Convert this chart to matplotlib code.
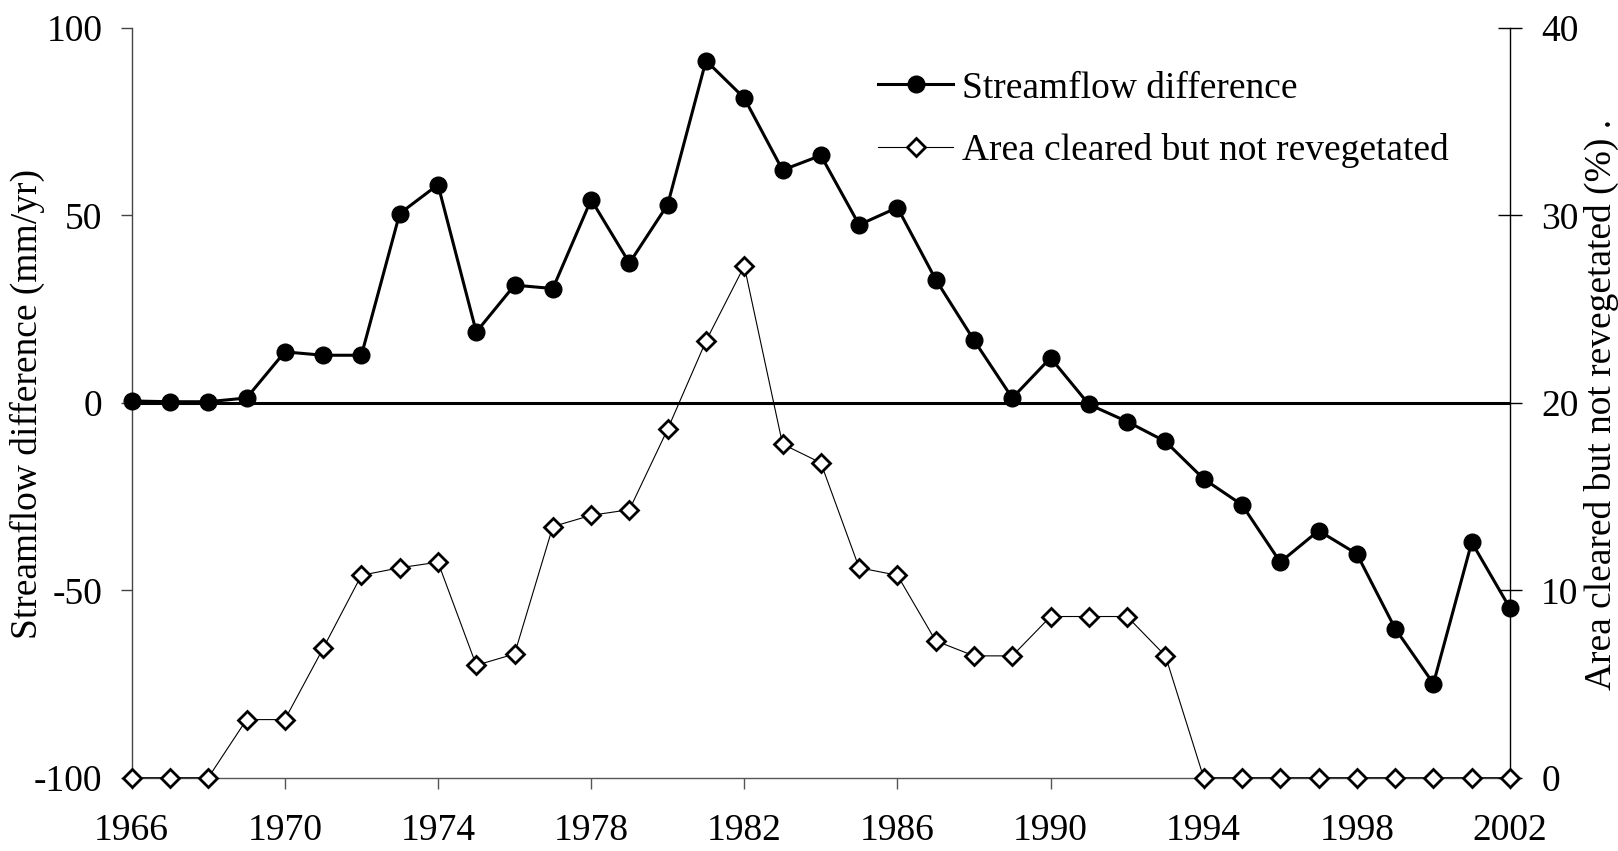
import matplotlib
matplotlib.use('Agg')
import matplotlib.pyplot as plt

years = list(range(1966, 2003))
streamflow = [0.5, 0.3, 0.3, 1.3, 13.6, 12.7, 12.7, 50.5, 58.2, 18.9,
              31.4, 30.5, 54.2, 37.3, 52.9, 91.3, 81.3, 62.1, 66.0, 47.5,
              52.1, 32.9, 16.7, 1.3, 12.0, -0.4, -5.0, -10.3, -20.3, -27.2,
              -42.5, -34.1, -40.3, -60.2, -74.9, -37.2, -54.8]
area = [0, 0, 0, 3.1, 3.1, 6.9, 10.8, 11.2, 11.5, 6.0,
        6.6, 13.4, 14.0, 14.3, 18.6, 23.3, 27.3, 17.8, 16.8, 11.2,
        10.8, 7.3, 6.5, 6.5, 8.6, 8.6, 8.6, 6.5, 0, 0,
        0, 0, 0, 0, 0, 0, 0]
xticks = list(range(1966, 2003, 4))
left_ticks = [-100, -50, 0, 50, 100]
right_ticks = [0, 10, 20, 30, 40]

plt.rcParams['font.family'] = ['Liberation Serif', 'DejaVu Serif']
plt.rcParams['font.size'] = 27
plt.rcParams['axes.unicode_minus'] = False

W, H = 1618, 851
fig = plt.figure(figsize=(W / 100, H / 100), dpi=100)
x0, x1 = 131.7 / W, 1510 / W
y0, y1 = 1 - 777.7 / H, 1 - 28 / H
ax = fig.add_axes([x0, y0, x1 - x0, y1 - y0])
ax2 = ax.twinx()

# zero reference line
ax.axhline(0, color='black', lw=2.2, zorder=1)

l1, = ax.plot(years, streamflow, color='black', lw=2.2, marker='o',
              markersize=12, markerfacecolor='black', markeredgecolor='black',
              clip_on=False, zorder=3, label='Streamflow difference')
l2, = ax2.plot(years, area, color='black', lw=0.8, marker='D',
               markersize=9, markerfacecolor='white', markeredgecolor='black',
               markeredgewidth=2.0, clip_on=False, zorder=3,
               label='Area cleared but not revegetated')

ax.set_xlim(1966, 2002)
ax.set_ylim(-100, 100)
ax2.set_ylim(0, 40)
ax.set_xticks(xticks)
ax.set_yticks(left_ticks)
ax2.set_yticks(right_ticks)

for a in (ax, ax2):
    a.spines['top'].set_visible(False)
ax2.spines['left'].set_visible(False)
ax2.spines['bottom'].set_visible(False)
ax.spines['right'].set_visible(False)
ax.spines['left'].set_color('#444444')
ax.spines['bottom'].set_color('#555555')
ax.spines['left'].set_linewidth(1.0)
ax.spines['bottom'].set_linewidth(1.0)
ax2.spines['right'].set_color('black')
ax2.spines['right'].set_linewidth(1.0)

ax.tick_params(axis='x', direction='out', length=8, width=1, color='#555555', pad=18)
ax.tick_params(axis='y', direction='out', length=8, width=1, color='#444444', pad=13)
ax2.tick_params(axis='y', direction='inout', length=17, width=1, color='black', pad=14)

fig.text(27 / W, 1 - 404 / H, 'Streamflow difference (mm/yr)',
         rotation=90, ha='center', va='center')
fig.text(1601 / W, 1 - 404 / H, 'Area cleared but not revegetated (%) .',
         rotation=90, ha='center', va='center')

fig.legend(handles=[l1, l2], loc='upper left',
           bbox_to_anchor=(878 / W, 1 - 71 / H), frameon=False,
           handlelength=2.0, handletextpad=0.25, labelspacing=0.74,
           borderpad=0, borderaxespad=0)

fig.savefig('out.png', dpi=100)
